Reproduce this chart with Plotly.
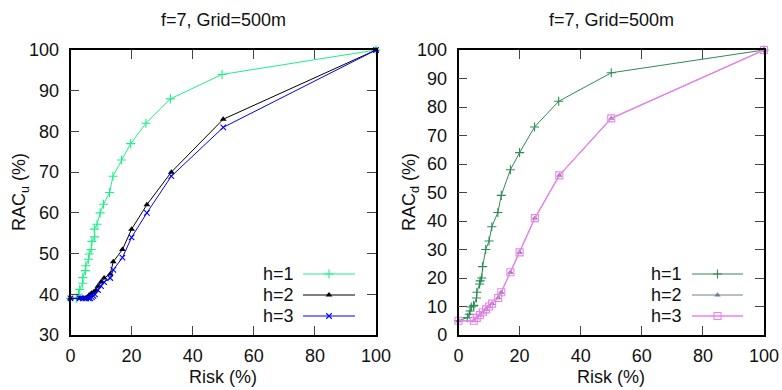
import plotly.graph_objects as go

W, H = 782, 390
FONT = "Liberation Sans, Arial, sans-serif"

# ---------------- data ----------------
# Left panel: RAC_u vs Risk
risk_u_h1 = [0, 1.9, 2.6, 3.0, 4.0, 4.0, 4.9, 5.0, 5.9, 6.1, 6.8, 7.0, 7.9, 7.8, 8.7,
             9.7, 10.8, 12.8, 13.9, 16.7, 19.7, 24.7, 32.7, 49.6, 100]
racu_h1 = [39, 39, 40, 41.2, 42.7, 44.1, 45.8, 47, 48.6, 49.9, 51, 53, 54.1, 56, 57.2,
           60, 62.1, 65, 69, 73, 77, 82, 88, 94, 100]

risk_u_h2 = [0, 3, 4, 5, 5.5, 6, 6.5, 7, 7.7, 8.3, 9, 10, 11, 13, 14, 17, 20, 25, 33, 50, 100]
racu_h2 = [39, 39, 39, 39, 39.3, 39.7, 40, 40.3, 40.6, 41, 42, 43, 44, 45, 48, 51, 56, 62, 70, 83, 100]

risk_u_h3 = [0, 3, 4, 5, 6, 6.5, 7, 7.5, 8, 9, 10, 11, 13, 14, 17, 20, 25, 33, 50, 100]
racu_h3 = [39, 39, 39, 39, 39, 39, 39.3, 39.6, 40, 41, 42, 43, 44, 46, 49, 54, 60, 69, 81, 100]

# Right panel: RAC_d vs Risk
risk_d_h1 = [0, 2.9, 3.5, 3.8, 4.2, 4.9, 5.0, 5.9, 6.0, 6.9, 7.1, 7.6, 7.9, 8.9, 10.0,
             10.9, 12.9, 14.0, 17.0, 20.0, 24.9, 32.8, 50.0, 100]
racd_h1 = [5, 6.1, 7.3, 8.4, 9.8, 10.2, 10.4, 13, 15, 17.9, 19, 20, 24, 30, 33,
           38, 43, 49, 58, 64, 73, 82, 92, 100]

risk_d_h2 = [0, 5, 6, 7, 8, 9, 10, 11, 13, 14, 17, 20, 25, 33, 50, 100]
racd_h2 = [5, 5, 6, 7, 8, 9, 10, 11, 13, 15, 22, 29, 41, 56, 76, 100]

risk_d_h3 = [0, 5, 6, 7, 8, 9, 10, 11, 13, 14, 17, 20, 25, 33, 50, 100]
racd_h3 = [5, 5, 6, 7, 8, 9, 10, 11, 13, 15, 22, 29, 41, 56, 76, 100]

legend_labels = ["h=1", "h=2", "h=3"]
x_ticks = [0, 20, 40, 60, 80, 100]
yu_ticks = [30, 40, 50, 60, 70, 80, 90, 100]
yd_ticks = [0, 10, 20, 30, 40, 50, 60, 70, 80, 90, 100]

# ---------------- styles ----------------
left_styles = [
    dict(color="#1eef86", symbol="cross-thin", size=6.5, lw=1.0),
    dict(color="#000000", symbol="triangle-up", size=6, lw=1.0),
    dict(color="#0000ff", symbol="x-thin", size=5.5, lw=1.0),
]
right_styles = [
    dict(color="#2e8b57", symbol="cross-thin", size=6.5, lw=1.0),
    dict(color="#708090", symbol="triangle-up", size=5.5, lw=1.0),
    dict(color="#ee82ee", symbol="square-open", size=7, lw=1.3),
]


def marker_for(st):
    if st["symbol"] in ("cross-thin", "x-thin", "square-open"):
        return dict(symbol=st["symbol"], size=st["size"], color=st["color"],
                    line=dict(color=st["color"], width=1.1))
    return dict(symbol=st["symbol"], size=st["size"], color=st["color"], line=dict(width=0))


fig = go.Figure()

left_series = [(risk_u_h1, racu_h1), (risk_u_h2, racu_h2), (risk_u_h3, racu_h3)]
right_series = [(risk_d_h1, racd_h1), (risk_d_h2, racd_h2), (risk_d_h3, racd_h3)]

for (xs, ys), st, lab in zip(left_series, left_styles, legend_labels):
    fig.add_trace(go.Scatter(x=xs, y=ys, mode="lines+markers", xaxis="x", yaxis="y", name=lab,
                             line=dict(color=st["color"], width=st["lw"]),
                             marker=marker_for(st), showlegend=False, cliponaxis=False))
for (xs, ys), st, lab in zip(right_series, right_styles, legend_labels):
    fig.add_trace(go.Scatter(x=xs, y=ys, mode="lines+markers", xaxis="x2", yaxis="y2", name=lab,
                             line=dict(color=st["color"], width=st["lw"]),
                             marker=marker_for(st), showlegend=False, cliponaxis=False))

# ---------------- manual gnuplot-style legend keys (pixel overlay axis) ----------------
legend_rows_px = [274, 295, 316]
legend_blocks = [
    dict(text_right=296, x0=303, x1=355, styles=left_styles),
    dict(text_right=684, x0=692, x1=743, styles=right_styles),
]
annotations = []
for blk in legend_blocks:
    for lab, ypx, st in zip(legend_labels, legend_rows_px, blk["styles"]):
        fig.add_trace(go.Scatter(x=[blk["x0"], blk["x1"]], y=[ypx, ypx], mode="lines",
                                 xaxis="x3", yaxis="y3", line=dict(color=st["color"], width=st["lw"]),
                                 showlegend=False, hoverinfo="skip"))
        fig.add_trace(go.Scatter(x=[(blk["x0"] + blk["x1"]) / 2], y=[ypx], mode="markers",
                                 xaxis="x3", yaxis="y3", marker=marker_for(st),
                                 showlegend=False, hoverinfo="skip"))
        annotations.append(dict(text=lab, x=blk["text_right"] / W, y=1 - ypx / H,
                                xref="paper", yref="paper", xanchor="right", yanchor="middle",
                                showarrow=False, font=dict(family=FONT, size=18, color="#111")))

# ---------------- axes ----------------
lx0, lx1 = 70.5, 376.0
rx0, rx1 = 458.5, 764.0
ytop, ybot = 50.0, 335.0

ax_common = dict(showline=True, linecolor="#000", linewidth=1.5, mirror="ticks",
                 ticks="inside", ticklen=9, tickwidth=1, tickcolor="#444",
                 showgrid=False, zeroline=False, automargin=False,
                 tickfont=dict(family=FONT, size=18, color="#111"))

fig.update_layout(
    width=W, height=H, margin=dict(l=0, r=0, t=0, b=0),
    paper_bgcolor="white", plot_bgcolor="rgba(0,0,0,0)",
    xaxis=dict(domain=[lx0 / W, lx1 / W], anchor="y", range=[0, 100], tickvals=x_ticks,
               ticklabelstandoff=4, **ax_common),
    yaxis=dict(domain=[1 - ybot / H, 1 - ytop / H], anchor="x", range=[30, 100], tickvals=yu_ticks,
               ticklabelstandoff=6, **ax_common),
    xaxis2=dict(domain=[rx0 / W, rx1 / W], anchor="y2", range=[0, 100], tickvals=x_ticks,
                ticklabelstandoff=4, **ax_common),
    yaxis2=dict(domain=[1 - ybot / H, 1 - ytop / H], anchor="x2", range=[0, 100], tickvals=yd_ticks,
                ticklabelstandoff=6, **ax_common),
    xaxis3=dict(domain=[0, 1], anchor="y3", range=[0, W], visible=False, fixedrange=True,
                automargin=False),
    yaxis3=dict(domain=[0, 1], anchor="x3", range=[H, 0], visible=False, fixedrange=True,
                automargin=False),
    showlegend=False,
)

txt = dict(xref="paper", yref="paper", showarrow=False, font=dict(family=FONT, size=18, color="#111"))
lc, rc = (lx0 + lx1) / 2 / W, (rx0 + rx1) / 2 / W
annotations += [
    dict(text="f=7, Grid=500m", x=lc, y=1 - 20 / H, xanchor="center", yanchor="middle", **txt),
    dict(text="f=7, Grid=500m", x=rc, y=1 - 20 / H, xanchor="center", yanchor="middle", **txt),
    dict(text="Risk (%)", x=lc, y=1 - 377 / H, xanchor="center", yanchor="middle", **txt),
    dict(text="Risk (%)", x=rc, y=1 - 377 / H, xanchor="center", yanchor="middle", **txt),
    dict(text="RAC<sub>u</sub> (%)", x=20 / W, y=1 - 192 / H, xanchor="center", yanchor="middle",
         textangle=-90, **txt),
    dict(text="RAC<sub>d</sub> (%)", x=410 / W, y=1 - 192 / H, xanchor="center", yanchor="middle",
         textangle=-90, **txt),
]
fig.update_layout(annotations=annotations)

fig.write_html("out.html")
